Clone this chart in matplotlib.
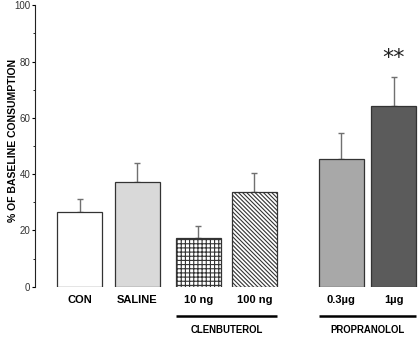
import matplotlib
matplotlib.use("Agg")
import matplotlib.pyplot as plt
from matplotlib.ticker import MultipleLocator

plt.rcParams['font.family'] = ['Liberation Sans', 'DejaVu Sans']
plt.rcParams['hatch.linewidth'] = 0.8

categories = ["CON", "SALINE", "10 ng", "100 ng", "0.3\u00b5g", "1\u00b5g"]
means = [26.4, 37.2, 17.2, 33.8, 45.4, 64.3]
sem = [4.6, 6.6, 4.5, 6.7, 9.1, 10.3]
groups = [("CLENBUTEROL", 2, 3), ("PROPRANOLOL", 4, 5)]
significance = {5: "**"}

positions = [0, 1, 2.06, 3.03, 4.54, 5.45]
face = ["white", "#d9d9d9", "white", "white", "#a8a8a8", "#5b5b5b"]
hatches = [None, None, "++++", "\\\\\\\\\\\\\\\\", None, None]
width = 0.78

fig = plt.figure(figsize=(4.2, 3.37), dpi=100)
ax = fig.add_axes([35 / 420, 1 - 286.7 / 337, 1 - 35 / 420, (286.7 - 5.3) / 337])

ax.errorbar(positions, means, yerr=[[0] * len(sem), sem], fmt="none",
            ecolor="#707070", elinewidth=1.0, capsize=2, capthick=1.0, zorder=1)
for x, m, fc, h in zip(positions, means, face, hatches):
    ax.bar(x, m, width=width, color=fc, edgecolor="#333333", linewidth=0.9,
           hatch=h, zorder=2)

ax.set_xlim(-0.78, 5.91)
ax.set_ylim(0, 100)
ax.spines["top"].set_visible(False)
ax.spines["right"].set_visible(False)
ax.spines["bottom"].set_visible(False)
ax.spines["left"].set_color("#222222")

ax.yaxis.set_major_locator(MultipleLocator(20))
ax.yaxis.set_minor_locator(MultipleLocator(10))
ax.tick_params(axis="y", which="major", length=2.5, labelsize=7, pad=1,
               labelcolor="#333333")
ax.tick_params(axis="y", which="minor", length=1.5)
ax.set_xticks(positions)
ax.set_xticklabels(categories, fontsize=8, fontweight="bold")
ax.tick_params(axis="x", length=0, pad=6)

ax.set_ylabel("% OF BASELINE CONSUMPTION", fontsize=7.5, fontweight="bold")
ax.yaxis.set_label_coords(-0.045, 0.52)

for label, i0, i1 in groups:
    x0 = positions[i0] - width / 2
    x1 = positions[i1] + width / 2
    ax.plot([x0, x1], [-10.3, -10.3], color="black", lw=1.8,
            clip_on=False, solid_capstyle="butt")
    ax.text((x0 + x1) / 2, -15.3, label, ha="center", va="center",
            fontsize=6.9, fontweight="bold")

for i, txt in significance.items():
    ax.text(positions[i], means[i] + sem[i] + 6.5, txt, ha="center",
            va="center", fontsize=16, color="#222222", family="DejaVu Sans")

fig.savefig("out.png", dpi=100)
